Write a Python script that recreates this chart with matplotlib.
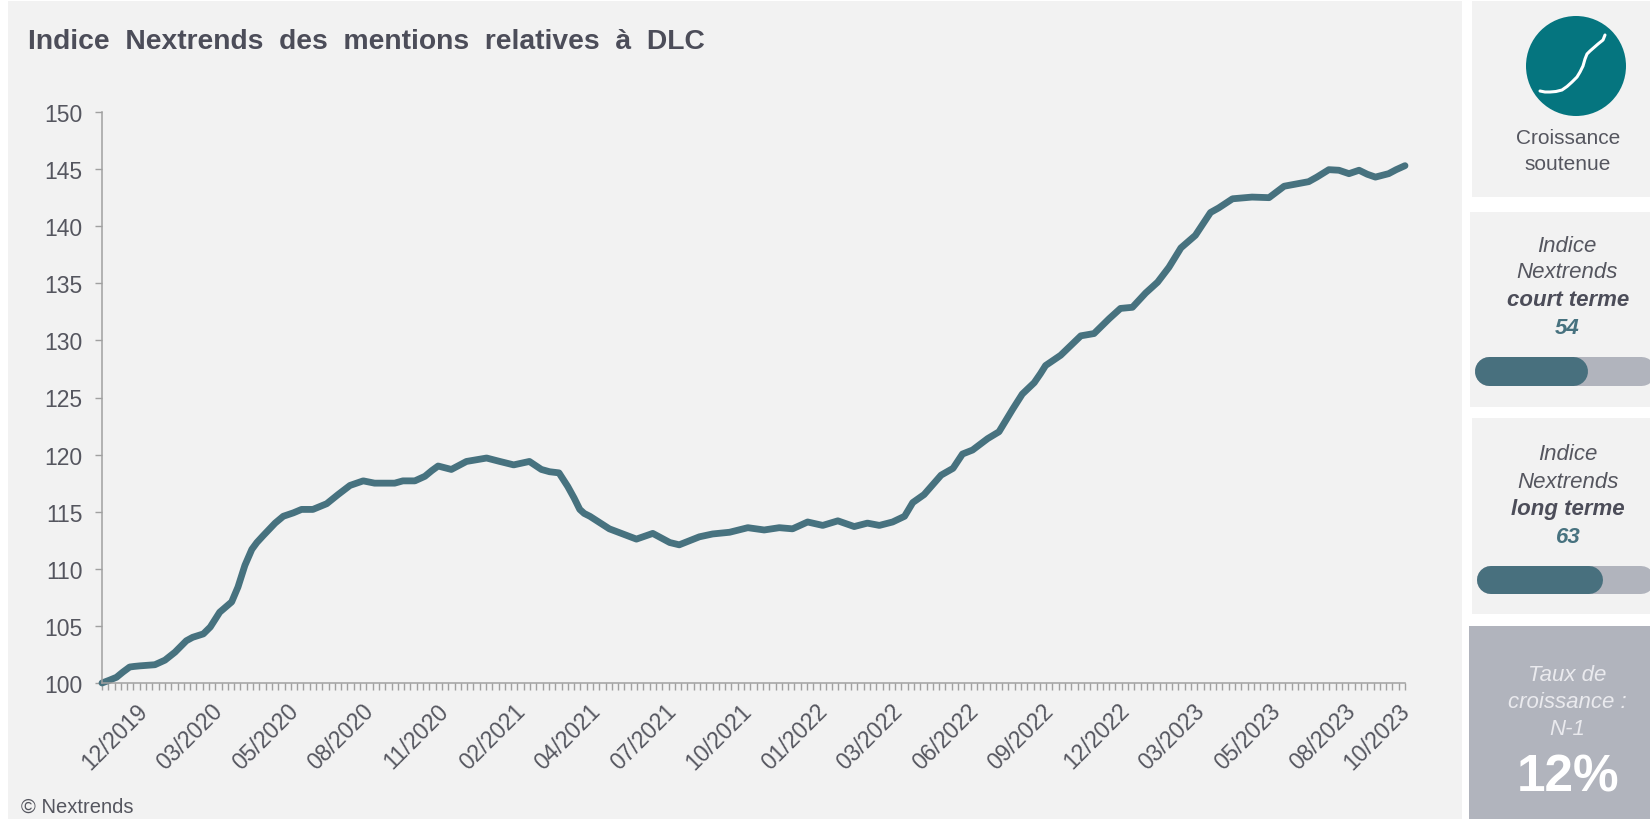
import matplotlib
matplotlib.use("Agg")
import matplotlib.pyplot as plt
from matplotlib.patches import Rectangle, Circle

plt.rcParams['font.family'] = ['Liberation Sans', 'DejaVu Sans']

# semaines depuis le debut de la serie et indice
weeks = [0, 1.2, 2.3, 3.3, 4.4, 5.1, 6, 8.4, 10, 11.6, 13.4, 14.4, 16.1, 17.2, 18.7, 20.6, 21.6, 22.7, 23.8,
         24.6, 25.6, 27.5, 28.8, 30.4, 31.7, 33.5, 35.7, 37.5, 39.4, 41.5, 43.3, 46.5, 47.8,
         49.7, 51.3, 52.4, 53.4, 55.5, 57.9, 61.1, 63.2, 65.4, 67.9, 69.8, 71.1, 72.6, 74,
         75, 75.9, 76.6, 77.5, 80.6, 84.9, 87.5, 90.2, 91.7, 94.9, 97, 99.7, 102.6, 105.2, 107.6,
         109.7, 112.1, 114.5, 116.9, 119.5, 121.6, 123.5, 125.6, 127.5, 128.1, 128.8, 130.6,
         133.3, 135.2, 136.7, 138.3, 140.7, 142.5, 143.6, 144.7, 146.2, 148.1, 149.1, 149.9, 152.3,
         155.5, 157.6, 160, 161.8, 163.7, 165.8, 167.7, 169.5, 171.4, 173.7, 176.1,
         177.4, 179.6, 182.7, 185.4, 187.8, 191.7, 193, 194.9, 196.5, 198.1, 199.7,
         201, 202.3, 204.4, 205.6, 207]
index_values = [100.0, 100.25, 100.5, 100.95, 101.4, 101.45, 101.5, 101.6, 102.0, 102.7, 103.7, 104.0, 104.3,
                104.9, 106.2, 107.1, 108.4, 110.3, 111.7, 112.3, 112.9, 114.0, 114.6, 114.9, 115.2, 115.2, 115.7,
                116.5, 117.3, 117.7, 117.5, 117.5, 117.7, 117.7, 118.1, 118.6, 119.0, 118.7, 119.4,
                119.7, 119.4, 119.1, 119.4, 118.7, 118.5, 118.4, 117.2, 116.2, 115.2, 114.85, 114.6, 113.5,
                112.6, 113.1, 112.3, 112.1, 112.8, 113.05, 113.2, 113.6, 113.4, 113.6, 113.5,
                114.1, 113.8, 114.2, 113.7, 114.0, 113.8, 114.1, 114.6, 115.15, 115.8, 116.5, 118.2,
                118.8, 120.05, 120.4, 121.4, 122.0, 123.0, 124.0, 125.3, 126.3, 127.1, 127.8, 128.7, 130.4,
                130.6, 131.9, 132.8, 132.9, 134.15, 135.1, 136.4, 138.1, 139.2, 141.2, 141.6,
                142.4, 142.55, 142.5, 143.5, 143.9, 144.3, 144.95, 144.9, 144.6, 144.9, 144.55, 144.3,
                144.6, 144.95, 145.3]
n_weeks = 207
label_weeks = [2, 14, 26, 38, 50, 62, 74, 86, 98, 110, 122, 134, 146, 158, 170, 182, 194, 202.5]
date_labels = ["12/2019", "03/2020", "05/2020", "08/2020", "11/2020", "02/2021", "04/2021",
               "07/2021", "10/2021", "01/2022", "03/2022", "06/2022", "09/2022", "12/2022",
               "03/2023", "05/2023", "08/2023", "10/2023"]
y_ticks = [100, 105, 110, 115, 120, 125, 130, 135, 140, 145, 150]
court_terme = 54
long_terme = 63
taux_n1 = 12

panel = "#f2f2f2"
grey_box = "#b1b4bd"
line_col = "#47727f"
text_col = "#55565f"
dark_text = "#4c4d59"
axis_col = "#a0a0a0"

W, H = 1650, 820
fig = plt.figure(figsize=(16.5, 8.2), dpi=100, facecolor="white")

# fond en pixels
bg = fig.add_axes([0, 0, 1, 1], zorder=0)
bg.set_xlim(0, W)
bg.set_ylim(H, 0)
bg.axis("off")

bg.add_patch(Rectangle((8, 2), 1454, 818, color=panel, lw=0))
bg.add_patch(Rectangle((1472, 2), 178, 196, color=panel, lw=0))
bg.add_patch(Rectangle((1470, 213), 180, 195, color=panel, lw=0))
bg.add_patch(Rectangle((1472, 419), 178, 196, color=panel, lw=0))
bg.add_patch(Rectangle((1469, 627), 181, 193, color=grey_box, lw=0))

# pictogramme
bg.add_patch(Circle((1576, 67), 50, color="#05757f", lw=0))
curve_x = [1540, 1545, 1550, 1556, 1562, 1567, 1572, 1577, 1580, 1583, 1585, 1587, 1590, 1594, 1598, 1603, 1605]
curve_y = [92, 93, 93, 92.5, 91, 87.5, 83, 78, 73, 67, 60, 55, 52, 48.5, 45, 41, 36]
bg.plot(curve_x, curve_y, color="white", lw=2.2, solid_capstyle="round", solid_joinstyle="round")


def bar(x0, x1, xend, y0, y1):
    # barre a bouts ronds : trait epais en points
    h = y1 - y0
    r = h / 2
    lw = h * 0.72
    yc = (y0 + y1) / 2
    bg.plot([x0 + r, xend - r], [yc, yc], color=grey_box, lw=lw, solid_capstyle="round")
    bg.plot([x0 + r, x1 - r], [yc, yc], color="#48707e", lw=lw, solid_capstyle="round")


bar(1474, 1587, 1655, 357, 386)
bar(1477, 1603, 1655, 567, 595)

# textes
bg.text(28, 42, "Indice  Nextrends  des  mentions  relatives  à  DLC", fontsize=20.3, fontweight="bold",
        color=dark_text, va="center", ha="left")
bg.text(21, 807, "© Nextrends", fontsize=14.5, color=text_col, va="center", ha="left")

cx = 1568
bg.text(cx, 139, "Croissance", fontsize=15, color=text_col, ha="center", va="center")
bg.text(cx, 165, "soutenue", fontsize=15, color=text_col, ha="center", va="center")

bg.text(cx - 1, 246, "Indice", fontsize=16, style="italic", color=text_col, ha="center", va="center")
bg.text(cx - 1, 273, "Nextrends", fontsize=16, style="italic", color=text_col, ha="center", va="center")
bg.text(cx, 301, "court terme", fontsize=16, style="italic", fontweight="bold", color=dark_text,
        ha="center", va="center")
bg.text(cx - 1, 329, str(court_terme), fontsize=16, style="italic", fontweight="bold", color=line_col,
        ha="center", va="center")

bg.text(cx, 455, "Indice", fontsize=16, style="italic", color=text_col, ha="center", va="center")
bg.text(cx, 483, "Nextrends", fontsize=16, style="italic", color=text_col, ha="center", va="center")
bg.text(cx, 510, "long terme", fontsize=16, style="italic", fontweight="bold", color=dark_text,
        ha="center", va="center")
bg.text(cx, 538, str(long_terme), fontsize=16, style="italic", fontweight="bold", color=line_col,
        ha="center", va="center")

bg.text(cx - 1, 676, "Taux de", fontsize=16, style="italic", color="#eaeaee", ha="center", va="center")
bg.text(cx - 1, 703, "croissance :", fontsize=16, style="italic", color="#eaeaee", ha="center", va="center")
bg.text(cx - 1, 730, "N-1", fontsize=16, style="italic", color="#eaeaee", ha="center", va="center")
bg.text(cx, 778, "%d%%" % taux_n1, fontsize=37, fontweight="bold", color="white", ha="center", va="center")

# courbe
ax = fig.add_axes([102 / W, 1 - 684 / H, (1405 - 102) / W, (684 - 113) / H], zorder=1)
ax.patch.set_alpha(0)
ax.plot(weeks, index_values, color=line_col, lw=4.9, solid_capstyle="round",
        solid_joinstyle="round", clip_on=False)
ax.set_xlim(0, n_weeks)
ax.set_ylim(100, 150)
ax.set_yticks(y_ticks)
ax.set_xticks(range(n_weeks + 1))
ax.set_xticklabels([])
ax.tick_params(axis="y", length=5, width=1, color=axis_col, labelsize=16.5, labelcolor=text_col, pad=9)
ax.tick_params(axis="x", length=5, width=1, color=axis_col, labelbottom=False)
for s in ["top", "right"]:
    ax.spines[s].set_visible(False)
for s in ["left", "bottom"]:
    ax.spines[s].set_color(axis_col)
    ax.spines[s].set_linewidth(1.1)

for w, lab in zip(label_weeks, date_labels):
    ax.annotate(lab, (w, 100), xytext=(0, -38), xycoords="data", textcoords="offset points",
                rotation=45, fontsize=16.5, color=text_col, ha="center", va="center",
                annotation_clip=False)

fig.savefig("out.png", dpi=100)
